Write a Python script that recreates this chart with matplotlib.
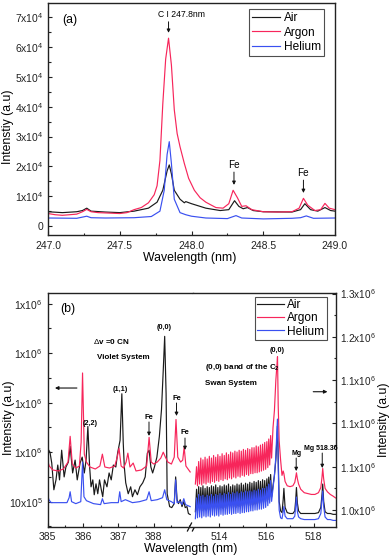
import numpy as np
import matplotlib
matplotlib.use('Agg')
import matplotlib.pyplot as plt
from matplotlib.ticker import FixedLocator, FixedFormatter, MultipleLocator, FormatStrFormatter

plt.rcParams['font.family'] = ['Liberation Sans', 'DejaVu Sans']
plt.rcParams['mathtext.fontset'] = 'custom'
plt.rcParams['mathtext.rm'] = 'Liberation Sans'
plt.rcParams['mathtext.bf'] = 'Liberation Sans:bold'
plt.rcParams['mathtext.it'] = 'Liberation Sans:italic'

C_AIR = '#1a1a1a'
C_AR = '#f7265b'
C_HE = '#3a50f0'
series_names = ['Air', 'Argon', 'Helium']

# ---------------- Panel (a) data (intensity in 1e4 a.u.) ----------------
wl_a_ar = [247.00, 247.05, 247.10, 247.20, 247.24, 247.27, 247.30, 247.35, 247.40, 247.50,
           247.55, 247.60, 247.65, 247.70, 247.74, 247.76, 247.78, 247.80, 247.82, 247.84,
           247.86, 247.88, 247.90, 247.92, 247.95, 247.98, 248.02, 248.06, 248.10, 248.17,
           248.22, 248.26, 248.29, 248.32, 248.35, 248.38, 248.42, 248.50, 248.60, 248.70,
           248.75, 248.78, 248.81, 248.86, 248.90, 248.93, 248.96, 249.00]
ar_a = [0.42, 0.38, 0.36, 0.40, 0.48, 0.56, 0.48, 0.45, 0.44, 0.42,
        0.45, 0.55, 0.62, 0.78, 1.05, 1.35, 2.20, 4.10, 5.60, 6.30,
        5.40, 3.90, 3.10, 2.66, 2.10, 1.60, 1.20, 0.95, 0.80, 0.62,
        0.60, 0.75, 1.20, 0.95, 0.66, 0.68, 0.55, 0.48, 0.47, 0.48,
        0.60, 0.93, 0.70, 0.52, 0.55, 0.76, 0.60, 0.55]

wl_a_air = [247.00, 247.10, 247.20, 247.24, 247.27, 247.30, 247.40, 247.50, 247.60, 247.70,
            247.76, 247.80, 247.83, 247.845, 247.86, 247.88, 247.92, 247.95, 247.96, 248.00,
            248.10, 248.20, 248.26, 248.30, 248.33, 248.36, 248.39, 248.43, 248.50, 248.70,
            248.76, 248.79, 248.83, 248.88, 248.93, 248.97, 249.00]
air_a = [0.48, 0.45, 0.48, 0.52, 0.60, 0.50, 0.47, 0.45, 0.50, 0.60,
         0.80, 1.20, 1.85, 2.05, 1.75, 1.20, 0.90, 0.78, 0.82, 0.75,
         0.60, 0.52, 0.55, 0.85, 0.66, 0.58, 0.62, 0.52, 0.48, 0.47,
         0.55, 0.75, 0.55, 0.50, 0.62, 0.52, 0.50]

wl_a_he = [247.00, 247.20, 247.24, 247.27, 247.30, 247.40, 247.60, 247.72, 247.78, 247.81,
           247.83, 247.845, 247.86, 247.88, 247.92, 247.96, 248.00, 248.10, 248.25, 248.31,
           248.35, 248.50, 248.70, 248.76, 248.80, 248.85, 249.00]
he_a = [0.27, 0.26, 0.30, 0.33, 0.28, 0.27, 0.28, 0.32, 0.50, 1.20,
        2.40, 2.83, 2.10, 0.90, 0.45, 0.38, 0.33, 0.27, 0.25, 0.35,
        0.27, 0.24, 0.26, 0.28, 0.34, 0.26, 0.27]

a_xticks = [247.0, 247.5, 248.0, 248.5, 249.0]
a_yticks = [0, 1, 2, 3, 4, 5, 6, 7]
a_yticklabels = ['0', '1x10$^4$', '2x10$^4$', '3x10$^4$', '4x10$^4$', '5x10$^4$', '6x10$^4$', '7x10$^4$']

# ---------------- Panel (b) data, left part: CN violet (left axis, 1e6 a.u.) ----------------
wl_bL_ar = [385.00, 385.05, 385.15, 385.30, 385.45, 385.58, 385.64, 385.70, 385.80, 385.90,
            385.95, 385.99, 386.04, 386.10, 386.20, 386.35, 386.48, 386.55, 386.62, 386.75,
            386.90, 386.97, 387.02, 387.08, 387.15, 387.22, 387.27, 387.33, 387.42, 387.50,
            387.65, 387.80, 387.87, 387.93, 388.00, 388.10, 388.20, 388.27, 388.33, 388.40,
            388.50, 388.58, 388.63, 388.68, 388.76, 388.82, 388.86, 388.91, 389.03]
ar_bL = [1.042, 1.036, 1.032, 1.031, 1.033, 1.040, 1.066, 1.038, 1.034, 1.036,
         1.060, 1.130, 1.048, 1.040, 1.035, 1.033, 1.036, 1.048, 1.035, 1.034,
         1.036, 1.045, 1.054, 1.036, 1.034, 1.040, 1.049, 1.035, 1.039, 1.031,
         1.032, 1.036, 1.065, 1.040, 1.038, 1.040, 1.044, 1.050, 1.045, 1.040,
         1.038, 1.045, 1.083, 1.045, 1.040, 1.042, 1.055, 1.036, 1.030]

wl_bL_air = [385.00, 385.07, 385.12, 385.18, 385.24, 385.29, 385.34, 385.40, 385.47, 385.52,
             385.59, 385.64, 385.71, 385.78, 385.84, 385.92, 385.98, 386.04, 386.09, 386.14,
             386.19, 386.23, 386.28, 386.32, 386.37, 386.42, 386.47, 386.52, 386.56, 386.61,
             386.68, 386.74, 386.80, 386.86, 386.93, 386.98, 387.05, 387.10, 387.14, 387.17,
             387.21, 387.28, 387.35, 387.40, 387.47, 387.54, 387.61, 387.69, 387.76, 387.82,
             387.87, 387.92, 387.97, 388.02, 388.09, 388.16, 388.22, 388.27, 388.31, 388.35,
             388.38, 388.45, 388.51, 388.58, 388.62, 388.66, 388.70, 388.75, 388.80, 388.85,
             388.89, 388.94, 388.98, 389.03]
air_bL = [1.054, 1.050, 1.039, 1.012, 1.022, 1.037, 1.022, 1.052, 1.025, 1.035,
          1.040, 1.056, 1.029, 1.042, 1.022, 1.039, 1.045, 1.029, 1.042, 1.076,
          1.035, 1.015, 1.022, 1.007, 1.018, 1.008, 1.022, 1.012, 1.005, 1.022,
          1.015, 1.029, 1.022, 1.037, 1.035, 1.049, 1.062, 1.109, 1.059, 1.035,
          1.019, 1.008, 1.015, 1.005, 1.012, 1.007, 1.015, 1.019, 1.025, 1.049,
          1.052, 1.035, 1.029, 1.035, 1.045, 1.066, 1.093, 1.133, 1.167, 1.109,
          1.008, 0.995, 0.994, 0.998, 1.025, 1.002, 0.998, 1.002, 0.995, 1.000,
          0.994, 0.995, 0.988, 0.987]

wl_bL_he = [385.00, 385.04, 385.10, 385.30, 385.55, 385.61, 385.64, 385.68, 385.80, 385.94,
            385.99, 386.03, 386.10, 386.30, 386.50, 386.55, 386.60, 386.80, 387.00, 387.04,
            387.08, 387.20, 387.40, 387.60, 387.80, 387.87, 387.93, 388.10, 388.25, 388.31,
            388.37, 388.50, 388.58, 388.62, 388.66, 388.75, 388.80, 388.85, 388.90, 389.03]
he_bL = [1.007, 1.002, 0.999, 0.999, 0.999, 1.004, 1.010, 1.000, 0.998, 1.000,
         1.040, 1.005, 1.001, 0.998, 0.997, 1.003, 0.998, 0.999, 0.999, 1.010,
         1.000, 1.002, 0.999, 1.000, 1.002, 1.010, 1.001, 1.002, 1.004, 1.012,
         1.002, 1.000, 0.998, 1.022, 0.999, 1.000, 0.997, 1.003, 0.997, 0.995]

# ---------------- Panel (b) data, right part: C2 Swan (right axis, 1e6 a.u.) ----------------
swan_trough_wl = [513.00, 513.09, 513.18, 513.27, 513.36, 513.45, 513.54, 513.63, 513.72, 513.81,
                  513.90, 513.99, 514.08, 514.17, 514.26, 514.35, 514.44, 514.53, 514.62, 514.71,
                  514.80, 514.89, 514.98, 515.07, 515.16, 515.25, 515.34, 515.43, 515.52, 515.61,
                  515.70, 515.79, 515.88, 515.97, 516.06, 516.14]
swan_peak_wl = [513.05, 513.14, 513.23, 513.32, 513.41, 513.50, 513.59, 513.68, 513.77, 513.86,
                513.95, 514.04, 514.13, 514.22, 514.31, 514.40, 514.49, 514.58, 514.67, 514.76,
                514.85, 514.94, 515.03, 515.12, 515.21, 515.30, 515.39, 515.48, 515.57, 515.66,
                515.75, 515.84, 515.93, 516.02, 516.10, 516.18]
ar_swan_peak = [1.050, 1.056, 1.060, 1.058, 1.061, 1.059, 1.062, 1.060, 1.063, 1.061,
                1.064, 1.062, 1.065, 1.063, 1.066, 1.064, 1.067, 1.066, 1.068, 1.067,
                1.069, 1.068, 1.070, 1.069, 1.071, 1.070, 1.072, 1.072, 1.074, 1.073,
                1.075, 1.076, 1.078, 1.079, 1.082, 1.086]
ar_swan_trough = [1.030, 1.028, 1.030, 1.029, 1.031, 1.030, 1.032, 1.031, 1.033, 1.032,
                  1.034, 1.033, 1.035, 1.034, 1.036, 1.035, 1.037, 1.036, 1.038, 1.037,
                  1.039, 1.038, 1.040, 1.039, 1.041, 1.040, 1.042, 1.042, 1.043, 1.043,
                  1.044, 1.045, 1.046, 1.047, 1.049, 1.052]
air_swan_peak = [1.024, 1.027, 1.026, 1.028, 1.025, 1.027, 1.026, 1.028, 1.027, 1.029,
                 1.026, 1.028, 1.027, 1.029, 1.028, 1.030, 1.027, 1.029, 1.028, 1.030,
                 1.029, 1.031, 1.029, 1.031, 1.030, 1.032, 1.031, 1.033, 1.032, 1.034,
                 1.033, 1.035, 1.034, 1.036, 1.038, 1.041]
air_swan_trough = [0.998, 0.999, 1.000, 0.999, 1.001, 1.000, 1.001, 1.000, 1.002, 1.001,
                   1.002, 1.001, 1.003, 1.002, 1.003, 1.002, 1.004, 1.003, 1.004, 1.003,
                   1.005, 1.004, 1.005, 1.005, 1.006, 1.005, 1.006, 1.006, 1.007, 1.007,
                   1.008, 1.008, 1.009, 1.010, 1.012, 1.015]
he_swan_peak = [1.014, 1.018, 1.016, 1.017, 1.015, 1.017, 1.016, 1.018, 1.016, 1.018,
                1.017, 1.019, 1.017, 1.019, 1.018, 1.020, 1.018, 1.020, 1.019, 1.021,
                1.019, 1.021, 1.020, 1.022, 1.021, 1.022, 1.021, 1.023, 1.022, 1.024,
                1.023, 1.025, 1.025, 1.027, 1.030, 1.034]
he_swan_trough = [0.990, 0.991, 0.992, 0.991, 0.993, 0.992, 0.993, 0.992, 0.994, 0.993,
                  0.994, 0.993, 0.995, 0.994, 0.995, 0.995, 0.996, 0.995, 0.996, 0.996,
                  0.997, 0.996, 0.997, 0.997, 0.998, 0.998, 0.999, 0.999, 1.000, 1.000,
                  1.001, 1.001, 1.002, 1.003, 1.005, 1.008]

tail_wl = [516.22, 516.28, 516.34, 516.40, 516.44, 516.47, 516.50, 516.54, 516.60, 516.66,
           516.71, 516.74, 516.79, 516.88, 517.00, 517.12, 517.20, 517.24, 517.27, 517.31,
           517.36, 517.45, 517.60, 517.75, 517.90, 518.05, 518.20, 518.30, 518.35, 518.38,
           518.42, 518.48, 518.58, 518.70, 518.82, 518.92]
ar_tail = [1.060, 1.095, 1.115, 1.150, 1.165, 1.177, 1.120, 1.080, 1.058, 1.040,
           1.045, 1.042, 1.033, 1.028, 1.027, 1.028, 1.032, 1.038, 1.043, 1.036,
           1.030, 1.024, 1.020, 1.019, 1.018, 1.018, 1.020, 1.026, 1.038, 1.048,
           1.036, 1.025, 1.021, 1.018, 1.016, 1.014]
air_tail = [1.015, 1.028, 1.040, 1.058, 1.080, 1.097, 1.060, 1.010, 0.999, 0.997,
            1.012, 1.025, 1.003, 0.997, 0.996, 0.996, 0.999, 1.012, 1.026, 1.008,
            0.999, 0.996, 0.996, 0.996, 0.996, 0.996, 0.997, 1.003, 1.018, 1.030,
            1.010, 0.998, 0.996, 0.996, 0.995, 0.995]
he_tail = [1.010, 1.025, 1.040, 1.062, 1.090, 1.105, 1.050, 1.000, 0.991, 0.990,
           0.998, 1.004, 0.993, 0.990, 0.990, 0.990, 0.993, 1.005, 1.015, 0.998,
           0.992, 0.990, 0.989, 0.989, 0.989, 0.989, 0.990, 0.996, 1.012, 1.022,
           1.004, 0.992, 0.989, 0.989, 0.988, 0.988]

bL_xticks = [385, 386, 387, 388]
bL_yticks = [1.00, 1.05, 1.10, 1.15, 1.20]
bL_yticklabels = ['10x10$^5$', '1x10$^6$', '1x10$^6$', '1x10$^6$', '1x10$^6$']
bR_xticks = [514, 516, 518]
bR_yticks = [1.00, 1.05, 1.10, 1.15, 1.20, 1.25]
bR_yticklabels = ['1.0x10$^6$', '1.1x10$^6$', '1.1x10$^6$', '1.1x10$^6$', '1.2x10$^6$', '1.3x10$^6$']


def zigzag(tr_wl, pk_wl, tr, pk, t_wl, t_val):
    x = list(np.column_stack([tr_wl, pk_wl]).ravel()) + list(t_wl)
    y = list(np.column_stack([tr, pk]).ravel()) + list(t_val)
    return x, y


W, H = 392, 558
fig = plt.figure(figsize=(W / 100, H / 100), dpi=100)

def px_axes(l, t, r, b):
    return fig.add_axes([l / W, 1 - b / H, (r - l) / W, (b - t) / H])

TICKFS = 7.5
LW = 0.85

def style(ax):
    for s in ax.spines.values():
        s.set_linewidth(1.0)
        s.set_color('#222222')
    ax.tick_params(which='both', direction='in', width=0.8, labelsize=TICKFS, colors='#222222')
    ax.tick_params(which='major', length=3)
    ax.tick_params(which='minor', length=1.8)

# ---------------- Panel (a) ----------------
axa = px_axes(48, 3, 335, 235)
style(axa)
axa.plot(wl_a_air, air_a, color=C_AIR, lw=LW, label=series_names[0])
axa.plot(wl_a_ar, ar_a, color=C_AR, lw=LW, label=series_names[1])
axa.plot(wl_a_he, he_a, color=C_HE, lw=LW, label=series_names[2])
axa.set_xlim(247.0, 249.0)
axa.set_ylim(-0.30, 7.48)
axa.xaxis.set_major_locator(FixedLocator(a_xticks))
axa.xaxis.set_major_formatter(FormatStrFormatter('%.1f'))
axa.xaxis.set_minor_locator(MultipleLocator(0.25))
axa.yaxis.set_major_locator(FixedLocator(a_yticks))
axa.yaxis.set_major_formatter(FixedFormatter(a_yticklabels))
axa.yaxis.set_minor_locator(MultipleLocator(0.5))
axa.tick_params(axis='x', pad=4)
leg = axa.legend(loc='upper right', bbox_to_anchor=(0.962, 0.973), borderaxespad=0,
                 fontsize=8.6, frameon=True, fancybox=False, edgecolor='#222222',
                 handlelength=2.4, handletextpad=0.3, labelspacing=0.2, borderpad=0.25)
leg.get_frame().set_linewidth(0.8)
axa.text(247.153, 6.91, '(a)', fontsize=8.8, ha='center', va='center')
axa.text(247.93, 7.08, 'C I 247.8nm', fontsize=6.2, ha='center', va='center')
arr = dict(arrowstyle='-|>', color='#111111', lw=0.7, mutation_scale=5, shrinkA=0, shrinkB=0)
axa.annotate('', xy=(247.84, 6.48), xytext=(247.84, 6.85), arrowprops=arr)
axa.text(248.296, 2.05, 'Fe', fontsize=7.2, ha='center', va='center')
axa.annotate('', xy=(248.296, 1.38), xytext=(248.296, 1.81), arrowprops=arr)
axa.text(248.78, 1.78, 'Fe', fontsize=7.2, ha='center', va='center')
axa.annotate('', xy=(248.78, 1.11), xytext=(248.78, 1.54), arrowprops=arr)
fig.text(190 / W, 1 - 258 / H, 'Wavelength (nm)', fontsize=8.8, ha='center', va='center')
fig.text(8.5 / W, 1 - 127 / H, 'Intenstiy (a.u)', fontsize=8.8, ha='center', va='center', rotation=90)

# ---------------- Panel (b) ----------------
axL = px_axes(47.5, 293, 193, 527)
axR = px_axes(193, 293, 335.5, 527)
style(axL)
style(axR)
axL.spines['right'].set_visible(False)
axR.spines['left'].set_visible(False)
axR.yaxis.tick_right()
axR.tick_params(axis='y', which='both', left=False, right=True, labelsize=7.2)

axL.plot(wl_bL_air, air_bL, color=C_AIR, lw=LW)
axL.plot(wl_bL_ar, ar_bL, color=C_AR, lw=LW)
axL.plot(wl_bL_he, he_bL, color=C_HE, lw=LW)
axL.set_xlim(385.0, 389.11)
axL.set_ylim(0.9744, 1.2108)
axL.xaxis.set_major_locator(FixedLocator(bL_xticks))
axL.xaxis.set_minor_locator(MultipleLocator(0.5))
axL.yaxis.set_major_locator(FixedLocator(bL_yticks))
axL.yaxis.set_major_formatter(FixedFormatter(bL_yticklabels))
axL.yaxis.set_minor_locator(MultipleLocator(0.025))

xa, ya = zigzag(swan_trough_wl, swan_peak_wl, air_swan_trough, air_swan_peak, tail_wl, air_tail)
xr, yr = zigzag(swan_trough_wl, swan_peak_wl, ar_swan_trough, ar_swan_peak, tail_wl, ar_tail)
xh, yh = zigzag(swan_trough_wl, swan_peak_wl, he_swan_trough, he_swan_peak, tail_wl, he_tail)
axR.plot(xa, ya, color=C_AIR, lw=LW, label=series_names[0])
axR.plot(xr, yr, color=C_AR, lw=LW, label=series_names[1])
axR.plot(xh, yh, color=C_HE, lw=LW, label=series_names[2])
axR.set_xlim(512.90, 518.92)
axR.set_ylim(0.9804, 1.2506)
axR.xaxis.set_major_locator(FixedLocator(bR_xticks))
axR.xaxis.set_minor_locator(FixedLocator([515, 517]))
axR.yaxis.set_major_locator(FixedLocator(bR_yticks))
axR.yaxis.set_major_formatter(FixedFormatter(bR_yticklabels))
axR.yaxis.set_minor_locator(MultipleLocator(0.025))

legb = axR.legend(loc='upper right', bbox_to_anchor=(0.938, 0.984), borderaxespad=0,
                  fontsize=8.6, frameon=True, fancybox=False, edgecolor='#222222',
                  handlelength=2.2, handletextpad=0.3, labelspacing=0.1, borderpad=0.2)
legb.get_frame().set_linewidth(0.8)

# break marks on the bottom axis
for x0 in (0.962, 0.996):
    axL.plot([x0, x0 + 0.028], [-0.017, 0.017], transform=axL.transAxes, color='#111111',
             lw=0.9, clip_on=False)

# annotations, left part
axL.text(385.58, 1.1946, '(b)', fontsize=8.8, ha='center', va='center')
axL.text(386.285, 1.1616, r'$\Delta$v =0 CN', fontsize=5.8, fontweight='bold', ha='left', va='center')
axL.text(386.40, 1.1461, 'Violet System', fontsize=5.8, fontweight='bold', ha='left', va='center')
axL.annotate('', xy=(385.21, 1.1148), xytext=(385.83, 1.1148),
             arrowprops=dict(arrowstyle='-|>', color='#111111', lw=0.8, mutation_scale=5,
                             shrinkA=0, shrinkB=0))
axL.text(386.20, 1.0785, '(2,2)', fontsize=5.2, fontweight='bold', ha='center', va='center')
axL.text(387.05, 1.1138, '(1,1)', fontsize=5.2, fontweight='bold', ha='center', va='center')
axL.text(388.305, 1.1757, '(0,0)', fontsize=5.2, fontweight='bold', ha='center', va='center')
fe_b = [(387.867, 1.0855, 1.0805, 1.0664), (388.644, 1.1047, 1.0997, 1.0866),
        (388.884, 1.0694, 1.0643, 1.0522)]
for x, yt, y0, y1 in fe_b:
    axL.text(x, yt, 'Fe', fontsize=5.4, fontweight='bold', ha='center', va='center')
    axL.annotate('', xy=(x, y1), xytext=(x, y0), arrowprops=arr)

# annotations, right part
axR.text(516.445, 1.184, '(0,0)', fontsize=5.2, fontweight='bold', ha='center', va='center')
axR.text(513.41, 1.164, r'(0,0) band of the C$_\mathbf{2}$', fontsize=5.8, fontweight='bold',
         ha='left', va='center')
axR.text(513.41, 1.146, 'Swan System', fontsize=5.8, fontweight='bold', ha='left', va='center')
axR.annotate('', xy=(518.58, 1.1366), xytext=(517.98, 1.1366),
             arrowprops=dict(arrowstyle='-|>', color='#111111', lw=0.8, mutation_scale=5,
                             shrinkA=0, shrinkB=0))
axR.text(517.26, 1.0658, 'Mg', fontsize=5.0, fontweight='bold', ha='center', va='center')
axR.annotate('', xy=(517.26, 1.045), xytext=(517.26, 1.060), arrowprops=arr)
axR.text(518.28, 1.0716, 'Mg 518.36', fontsize=5.0, fontweight='bold', ha='center', va='center')
axR.annotate('', xy=(518.36, 1.0485), xytext=(518.36, 1.0658), arrowprops=arr)

fig.text(191 / W, 1 - 549 / H, 'Wavelength (nm)', fontsize=8.8, ha='center', va='center')
fig.text(9 / W, 1 - 418 / H, 'Intensity (a.u)', fontsize=8.8, ha='center', va='center', rotation=90)
fig.text(384 / W, 1 - 420 / H, 'Intensity (a.u)', fontsize=8.8, ha='center', va='center', rotation=90)

fig.savefig('out.png', dpi=100)
